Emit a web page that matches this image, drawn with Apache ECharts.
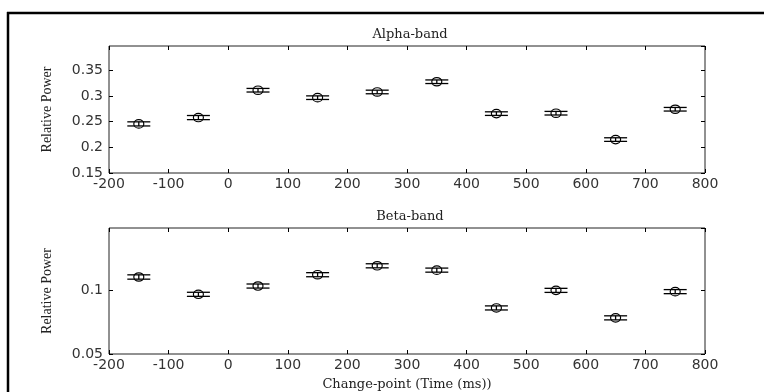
<!DOCTYPE html>
<html>
<head>
<meta charset="utf-8">
<script src="https://cdn.jsdelivr.net/npm/echarts@6/dist/echarts.min.js"></script>
<style>
html,body{margin:0;padding:0;background:#fff;}
#chart{width:764px;height:392px;}
</style>
</head>
<body>
<div id="chart"></div>
<script>
// ---- data ----
const times = [-150, -50, 50, 150, 250, 350, 450, 550, 650, 750];
const alphaMean = [0.2455, 0.2578, 0.3110, 0.2965, 0.3076, 0.3275, 0.2655, 0.2663, 0.2150, 0.2740];
const alphaErr  = [0.0040, 0.0040, 0.0035, 0.0035, 0.0035, 0.0035, 0.0035, 0.0035, 0.0035, 0.0035];
const betaMean  = [0.1105, 0.0969, 0.1034, 0.1123, 0.1193, 0.1159, 0.0862, 0.1000, 0.0784, 0.0990];
const betaErr   = [0.0017, 0.0016, 0.0016, 0.0016, 0.0016, 0.0016, 0.0016, 0.0016, 0.0016, 0.0016];
const xTicks = { min: -200, max: 800, step: 100 };
const alphaY = { min: 0.15, max: 0.397, step: 0.05 };
const betaY  = { min: 0.05, max: 0.149, step: 0.05 };
const titles = ['Alpha-band', 'Beta-band'];
const yName = 'Relative Power';
const xName = 'Change-point (Time (ms))';

// ---- styles ----
const tickFont = { fontFamily: 'DejaVu Sans', fontSize: 14, color: '#333' };
const serif = 'DejaVu Serif';
const capHalf = 11.5;

function rows(m, e) { return times.map((t, i) => [t, m[i], e[i]]); }

function renderErr(params, api) {
  const x = api.value(0), y = api.value(1), e = api.value(2);
  const c = api.coord([x, y]);
  const hi = api.coord([x, y + e]);
  const lo = api.coord([x, y - e]);
  const st = { stroke: '#000', lineWidth: 1.3, fill: null };
  return {
    type: 'group',
    children: [
      { type: 'line', shape: { x1: c[0] - capHalf, y1: hi[1], x2: c[0] + capHalf, y2: hi[1] }, style: st },
      { type: 'line', shape: { x1: c[0] - capHalf, y1: lo[1], x2: c[0] + capHalf, y2: lo[1] }, style: st },
      { type: 'line', shape: { x1: c[0], y1: hi[1], x2: c[0], y2: lo[1] }, style: st },
      { type: 'ellipse', shape: { cx: c[0], cy: c[1], rx: 5, ry: 4.2 }, style: { stroke: '#000', lineWidth: 1.2, fill: 'none' } }
    ]
  };
}

const grids = [
  { left: 109, right: 59, top: 46, height: 127, show: true, borderColor: '#222', borderWidth: 1 },
  { left: 109, right: 59, top: 228, height: 128, show: true, borderColor: '#222', borderWidth: 1 }
];

function xAx(gi, pos, labels) {
  return {
    type: 'value', gridIndex: gi, position: pos,
    min: xTicks.min, max: xTicks.max, interval: xTicks.step,
    axisLine: { show: false, onZero: false },
    axisTick: { show: true, inside: true, length: 4, lineStyle: { color: '#000' } },
    splitLine: { show: false },
    axisLabel: Object.assign({ show: labels, margin: 4 }, tickFont),
    name: (labels && gi === 1) ? xName : '',
    nameLocation: 'middle', nameGap: 24,
    nameTextStyle: { fontFamily: serif, fontSize: 13, color: '#222' }
  };
}
function yAx(gi, pos, labels, r) {
  return {
    type: 'value', gridIndex: gi, position: pos,
    min: r.min, max: r.max, interval: r.step,
    axisLine: { show: false, onZero: false },
    axisTick: { show: true, inside: true, length: 4, lineStyle: { color: '#000' } },
    splitLine: { show: false },
    axisLabel: Object.assign({ show: labels, margin: 6, showMaxLabel: false }, tickFont),
    name: labels ? yName : '',
    nameLocation: 'middle', nameGap: 55, nameRotate: 90,
    nameTextStyle: { fontFamily: 'Liberation Serif', fontSize: 14, color: '#222' }
  };
}

const option = {
  backgroundColor: '#fff',
  animation: false,
  title: [
    { text: titles[0], left: 405, top: 23, textAlign: 'center', textStyle: { fontFamily: serif, fontSize: 13, fontWeight: 'normal', color: '#222' } },
    { text: titles[1], left: 405, top: 205, textAlign: 'center', textStyle: { fontFamily: serif, fontSize: 13, fontWeight: 'normal', color: '#222' } }
  ],
  graphic: [
    { type: 'line', shape: { x1: 7, y1: 13, x2: 764, y2: 13 }, style: { stroke: '#000', lineWidth: 2.5 } },
    { type: 'line', shape: { x1: 8, y1: 12, x2: 8, y2: 392 }, style: { stroke: '#000', lineWidth: 2.5 } }
  ],
  grid: grids,
  xAxis: [xAx(0, 'bottom', true), xAx(0, 'top', false), xAx(1, 'bottom', true), xAx(1, 'top', false)],
  yAxis: [yAx(0, 'left', true, alphaY), yAx(0, 'right', false, alphaY), yAx(1, 'left', true, betaY), yAx(1, 'right', false, betaY)],
  series: [
    { type: 'custom', xAxisIndex: 0, yAxisIndex: 0, data: rows(alphaMean, alphaErr), renderItem: renderErr, encode: { x: 0, y: 1 } },
    { type: 'custom', xAxisIndex: 2, yAxisIndex: 2, data: rows(betaMean, betaErr), renderItem: renderErr, encode: { x: 0, y: 1 } }
  ]
};

const chart = echarts.init(document.getElementById('chart'), null, { renderer: 'canvas' });
chart.setOption(option);
</script>
</body>
</html>
